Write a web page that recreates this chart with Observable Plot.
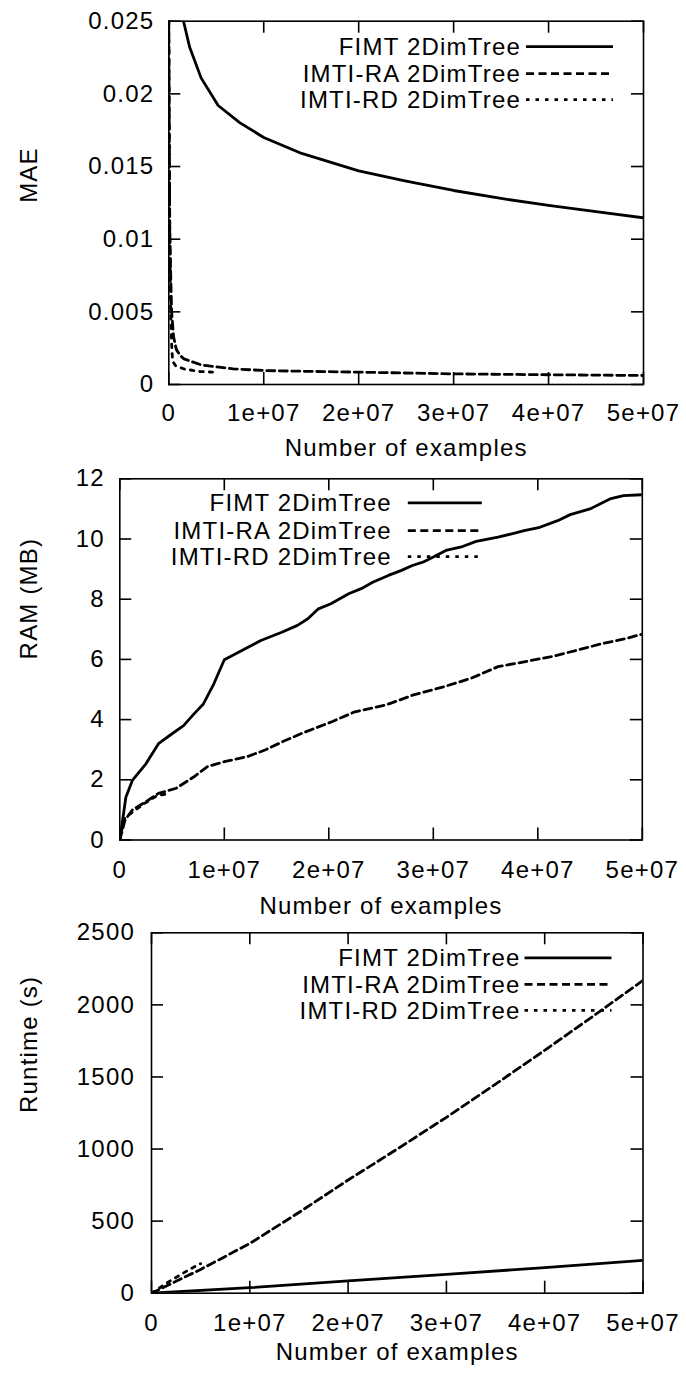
<!DOCTYPE html>
<html><head><meta charset="utf-8">
<script src="https://cdn.jsdelivr.net/npm/d3@7"></script>
<script src="https://cdn.jsdelivr.net/npm/@observablehq/plot@0.6"></script>
<style>
body{margin:0;background:#fff;width:686px;}
#charts svg{display:block;overflow:visible;background:transparent !important;}
#charts{position:relative;}
</style></head><body><div id="charts"></div>
<script>
// ---------- shared ----------
const xTicks = [0, 1e7, 2e7, 3e7, 4e7, 5e7];
const xTickLabels = ["0", "1e+07", "2e+07", "3e+07", "4e+07", "5e+07"];
const seriesNames = ["FIMT 2DimTree", "IMTI-RA 2DimTree", "IMTI-RD 2DimTree"];
const xTitle = "Number of examples";

// ---------- panel 1 : MAE ----------
const maeTicks = [0, 0.005, 0.01, 0.015, 0.02, 0.025];
const maeTickLabels = ["0", "0.005", "0.01", "0.015", "0.02", "0.025"];
const maeFimt = [[1.55e6,0.025],[2.2e6,0.0232],[3.4e6,0.0211],[5.2e6,0.0192],[7.5e6,0.0180],[1.0e7,0.0170],[1.4e7,0.0159],[2.0e7,0.0147],[2.5e7,0.0140],[3.0e7,0.01335],[3.5e7,0.0128],[4.0e7,0.01232],[4.5e7,0.0119],[5.0e7,0.01147]];
const maeRA = [[0,0.025],[1e5,0.011],[2e5,0.0075],[3e5,0.005],[5e5,0.0033],[8e5,0.0024],[1.2e6,0.002],[1.6e6,0.00176],[3.4e6,0.00135],[6.8e6,0.00108],[1e7,0.00096],[1.5e7,0.0009],[2e7,0.00085],[3e7,0.00073],[4e7,0.00067],[5e7,0.00062]];
const maeRD = [[0,0.025],[1e5,0.01],[2e5,0.005],[3e5,0.0028],[4e5,0.0016],[7e5,0.0013],[1.6e6,0.00107],[3.3e6,0.00089],[4.6e6,0.00085]];

// ---------- panel 2 : RAM ----------
const ramTicks = [0, 2, 4, 6, 8, 10, 12];
const ramTickLabels = ["0", "2", "4", "6", "8", "10", "12"];
const ramFimt = [[0,0],[5.8e5,1.42],[1.2e6,1.98],[2.5e6,2.53],[3.7e6,3.2],[5.0e6,3.53],[6.1e6,3.8],[7.1e6,4.19],[8.0e6,4.52],[9.0e6,5.19],[1.0e7,5.99],[1.2e7,6.35],[1.35e7,6.63],[1.55e7,6.9],[1.7e7,7.13],[1.8e7,7.35],[1.9e7,7.68],[2.02e7,7.85],[2.19e7,8.18],[2.31e7,8.35],[2.42e7,8.56],[2.57e7,8.79],[2.69e7,8.95],[2.8e7,9.12],[2.9e7,9.23],[3.0e7,9.4],[3.12e7,9.62],[3.28e7,9.75],[3.41e7,9.92],[3.62e7,10.06],[3.75e7,10.17],[3.87e7,10.28],[4.02e7,10.39],[4.19e7,10.61],[4.31e7,10.81],[4.5e7,11.0],[4.69e7,11.33],[4.82e7,11.44],[5.0e7,11.47]];
const ramRA = [[0,0],[5e5,0.66],[1.2e6,1.0],[2.5e6,1.27],[3.7e6,1.55],[5.4e6,1.72],[7.1e6,2.1],[8.4e6,2.44],[1.0e7,2.6],[1.22e7,2.77],[1.39e7,2.99],[1.56e7,3.27],[1.74e7,3.54],[2.03e7,3.93],[2.25e7,4.26],[2.55e7,4.49],[2.81e7,4.82],[3.1e7,5.09],[3.36e7,5.37],[3.62e7,5.76],[3.87e7,5.92],[4.13e7,6.09],[4.38e7,6.31],[4.6e7,6.51],[4.85e7,6.7],[5.0e7,6.84]];
const ramRD = [[0,0],[3.8e5,0.7],[1.0e6,0.87],[2.3e6,1.2],[3.6e6,1.48],[4.85e6,1.55]];

// ---------- panel 3 : Runtime ----------
const rtTicks = [0, 500, 1000, 1500, 2000, 2500];
const rtTickLabels = ["0", "500", "1000", "1500", "2000", "2500"];
const rtFimt = [[0,0],[1e7,38],[2e7,85],[3e7,130],[4e7,178],[5e7,228]];
const rtRA = [[0,0],[5e6,165],[1e7,345],[1.5e7,560],[2e7,785],[2.5e7,1000],[3e7,1220],[3.5e7,1450],[4e7,1685],[4.5e7,1925],[5e7,2170]];
const rtRD = [[0,0],[1e6,45],[2e6,90],[3e6,130],[4e6,170],[5e6,205]];

const FONT = "'Liberation Sans', Arial, Helvetica, sans-serif";
const FS = 24;
const LW = 2.8;
const dashes = [null, "8,4.5", "3.5,6"];

function panel(cfg) {
  const W = 686;
  const {height, mt, mb, ml, mr} = cfg;
  const fw = W - ml - mr, fh = height - mt - mb;
  const TL = 12;
  const sw = 1.6;
  const lines = cfg.series.map((s, i) => Plot.line(s, {
    x: d => d[0], y: d => d[1], stroke: "black", strokeWidth: LW,
    strokeDasharray: dashes[i], clip: true
  }));
  const chart = Plot.plot({
    width: W, height,
    marginTop: mt, marginBottom: mb, marginLeft: ml, marginRight: mr,
    style: {fontFamily: FONT, fontSize: FS + "px", letterSpacing: "1.2px", background: "transparent", color: "black", overflow: "visible"},
    x: {domain: [0, 5e7]},
    y: {domain: cfg.yDomain},
    marks: [
      ...lines,
      Plot.tickY(cfg.yTicks, {y: d => d, insetRight: fw - TL, stroke: "black", strokeWidth: sw}),
      Plot.tickY(cfg.yTicks, {y: d => d, insetLeft: fw - TL, stroke: "black", strokeWidth: sw}),
      Plot.tickX(xTicks, {x: d => d, insetTop: fh - TL, stroke: "black", strokeWidth: sw}),
      Plot.tickX(xTicks, {x: d => d, insetBottom: fh - TL, stroke: "black", strokeWidth: sw}),
      Plot.frame({stroke: "black", strokeWidth: sw}),
      Plot.axisY(cfg.yTicks, {tickSize: 0, tickPadding: cfg.yPad, label: null, fontSize: FS,
        tickFormat: d => cfg.yTickLabels[cfg.yTicks.indexOf(d)]}),
      Plot.axisX(xTicks, {tickSize: 0, tickPadding: cfg.xPad, label: null, fontSize: FS,
        tickFormat: d => xTickLabels[xTicks.indexOf(d)]}),
      Plot.text([xTitle], {text: d => d, frameAnchor: "bottom", lineAnchor: "top", dy: cfg.xTitleDy, fontSize: FS}),
      Plot.text([cfg.yTitle], {text: d => d, frameAnchor: "left", rotate: -90, dx: cfg.yTitleX - ml, fontSize: FS})
    ]
  });
  // legend (inside frame, top-right)
  const svg = d3.select(chart);
  const g = svg.append("g").attr("class", "legend");
  const right = W - mr;
  seriesNames.forEach((name, i) => {
    const cy = mt + cfg.leg.rows[i];
    g.append("text").attr("x", right - cfg.leg.textEnd).attr("y", cy).attr("dy", "0.36em")
      .attr("text-anchor", "end").attr("font-size", FS).attr("fill", "black").text(name);
    g.append("line").attr("x1", right - cfg.leg.lineStart).attr("x2", right - cfg.leg.lineEnd)
      .attr("y1", cy).attr("y2", cy).attr("stroke", "black").attr("stroke-width", LW)
      .attr("stroke-dasharray", dashes[i]);
  });
  chart.style.overflow = "visible";
  chart.style.background = "transparent";
  document.getElementById("charts").appendChild(chart);
}

panel({height: 460, mt: 20.7, mb: 76, ml: 168.3, mr: 43,
  yDomain: [0, 0.025], yTicks: maeTicks, yTickLabels: maeTickLabels, yTitle: "MAE",
  series: [maeFimt, maeRA, maeRD], yPad: 14.5, xPad: 19, xTitleDy: 54, yTitleX: 28.5,
  leg: {textEnd: 122, lineStart: 117, lineEnd: 30, rows: [26, 53, 79]}});

panel({height: 455, mt: 18.3, mb: 75.5, ml: 119.3, mr: 44.2,
  yDomain: [0, 12], yTicks: ramTicks, yTickLabels: ramTickLabels, yTitle: "RAM (MB)",
  series: [ramFimt, ramRA, ramRD], yPad: 15, xPad: 20.5, xTitleDy: 57, yTitleX: 28.5,
  leg: {textEnd: 250, lineStart: 234, lineEnd: 160, rows: [24.5, 52.3, 78.3]}});

panel({height: 461, mt: 17.3, mb: 83.3, ml: 151, mr: 43.5,
  yDomain: [0, 2500], yTicks: rtTicks, yTickLabels: rtTickLabels, yTitle: "Runtime (s)",
  series: [rtFimt, rtRA, rtRD], yPad: 16.5, xPad: 21, xTitleDy: 50, yTitleX: 28.5,
  leg: {textEnd: 122, lineStart: 118, lineEnd: 31, rows: [25.5, 52, 78]}});
</script></body></html>
